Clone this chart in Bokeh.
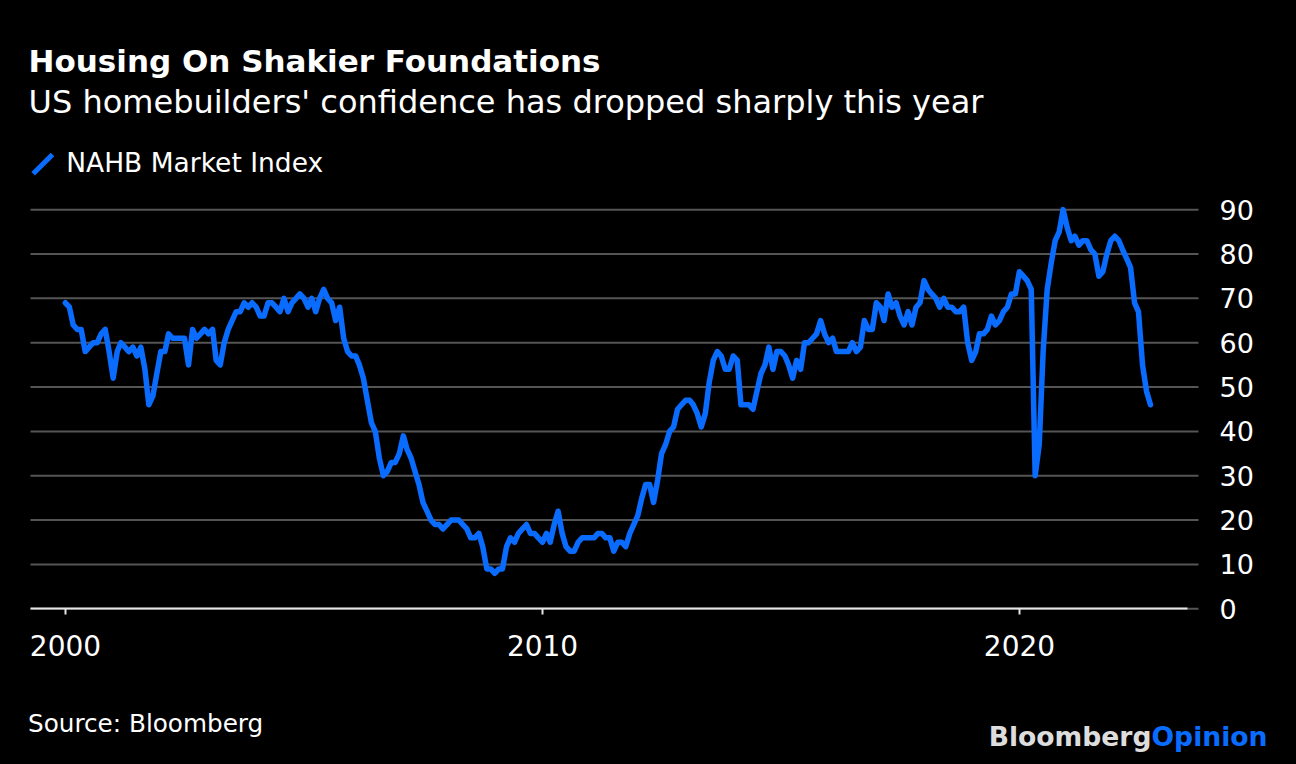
import pandas as pd
from bokeh.plotting import figure
from bokeh.models import (ColumnDataSource, Range1d, FixedTicker, DatetimeTickFormatter,
                          Label, PolyAnnotation)
from bokeh.embed import file_html
from bokeh.resources import INLINE

# NAHB Market Index, monthly (month-end), Dec 1999 .. Sep 2022
nahb_1999 = [69]
nahb_2000 = [68, 64, 63, 63, 58, 59, 60, 60, 62, 63, 58, 52]
nahb_2001 = [58, 60, 59, 58, 59, 57, 59, 54, 46, 48, 53, 58]
nahb_2002 = [58, 62, 61, 61, 61, 61, 55, 63, 61, 62, 63, 62]
nahb_2003 = [63, 56, 55, 60, 63, 65, 67, 67, 69, 68, 69, 68]
nahb_2004 = [66, 66, 69, 69, 68, 67, 70, 67, 69, 70, 71, 70]
nahb_2005 = [68, 70, 67, 70, 72, 70, 69, 65, 68, 61, 58, 57]
nahb_2006 = [57, 55, 52, 47, 42, 40, 34, 30, 31, 33, 33, 35]
nahb_2007 = [39, 36, 34, 31, 28, 24, 22, 20, 19, 19, 18, 19]
nahb_2008 = [20, 20, 20, 19, 18, 16, 16, 17, 14, 9, 9, 8]
nahb_2009 = [9, 9, 14, 16, 15, 17, 18, 19, 17, 17, 16, 15]
nahb_2010 = [17, 15, 19, 22, 17, 14, 13, 13, 15, 16, 16, 16]
nahb_2011 = [16, 17, 17, 16, 16, 13, 15, 15, 14, 17, 19, 21]
nahb_2012 = [25, 28, 28, 24, 29, 35, 37, 40, 41, 45, 46, 47]
nahb_2013 = [47, 46, 44, 41, 44, 51, 56, 58, 57, 54, 54, 57]
nahb_2014 = [56, 46, 46, 46, 45, 49, 53, 55, 59, 54, 58, 58]
nahb_2015 = [57, 55, 52, 56, 54, 60, 60, 61, 62, 65, 62, 60]
nahb_2016 = [61, 58, 58, 58, 58, 60, 58, 59, 65, 63, 63, 69]
nahb_2017 = [68, 65, 71, 68, 69, 66, 64, 67, 64, 68, 69, 74]
nahb_2018 = [72, 71, 70, 68, 70, 68, 68, 67, 67, 68, 60, 56]
nahb_2019 = [58, 62, 62, 63, 66, 64, 65, 67, 68, 71, 71, 76]
nahb_2020 = [75, 74, 72, 30, 37, 58, 72, 78, 83, 85, 90, 86]
nahb_2021 = [83, 84, 82, 83, 83, 81, 80, 75, 76, 80, 83, 84]
nahb_2022 = [83, 81, 79, 77, 69, 67, 55, 49, 46]

first_month_end = "1999-12-31"
y_ticks = [0, 10, 20, 30, 40, 50, 60, 70, 80, 90]
x_tick_dates = ["2000-01-01", "2010-01-01", "2020-01-01"]

title_text = "Housing On Shakier Foundations"
subtitle_text = "US homebuilders' confidence has dropped sharply this year"
legend_text = "NAHB Market Index"
source_text = "Source: Bloomberg"
logo_left = "Bloomberg"
logo_right = "Opinion"

values = (nahb_1999 + nahb_2000 + nahb_2001 + nahb_2002 + nahb_2003 + nahb_2004 +
          nahb_2005 + nahb_2006 + nahb_2007 + nahb_2008 + nahb_2009 + nahb_2010 +
          nahb_2011 + nahb_2012 + nahb_2013 + nahb_2014 + nahb_2015 + nahb_2016 +
          nahb_2017 + nahb_2018 + nahb_2019 + nahb_2020 + nahb_2021 + nahb_2022)
try:
    dates = pd.date_range(first_month_end, periods=len(values), freq="ME")
except Exception:
    dates = pd.date_range(first_month_end, periods=len(values), freq="M")

src = ColumnDataSource(data=dict(date=dates, nahb=values))

BLUE = "#0a6cff"
BG = "#000000"
FONT = "DejaVu Sans"
W, H = 1296, 764


def yr(decimal_year):
    """decimal year -> epoch milliseconds"""
    ts = pd.Timestamp("2000-01-01") + pd.Timedelta(days=(decimal_year - 2000) * 365.25)
    return ts.value / 1e6


def ms(date_str):
    return pd.Timestamp(date_str).value / 1e6


# horizontal layout of the canvas (years); plot area is 1999.266 .. 2023.753
view_left, view_right = 1998.6373, 2025.8071
area_left, area_right, axis_line_end = 1999.2662, 2023.7526, 2023.52
# vertical: value range shown on the whole canvas
view_bottom, view_top = -35.11, 137.16

p = figure(width=W, height=H, output_backend="svg", toolbar_location=None,
           x_axis_type="datetime", y_axis_location="right", title_location=None,
           x_range=Range1d(yr(view_left), yr(view_right)),
           y_range=Range1d(view_bottom, view_top),
           min_border=0, min_border_left=0, min_border_right=0,
           min_border_top=0, min_border_bottom=0,
           background_fill_color=BG, border_fill_color=BG, outline_line_color=None)
p.xgrid.visible = False
p.ygrid.visible = False

# horizontal grid lines at the y ticks, spanning the plot area only
p.segment(x0=[yr(area_left)] * len(y_ticks), x1=[yr(area_right)] * len(y_ticks),
          y0=y_ticks, y1=y_ticks, line_color="#555555", line_width=2)

p.line(x="date", y="nahb", source=src, line_color=BLUE, line_width=5.5,
       line_join="round", line_cap="round")

# y axis: right side of plot area
ya = p.yaxis[0]
ya.fixed_location = yr(area_right)
ya.ticker = FixedTicker(ticks=y_ticks)
ya.axis_line_color = None
ya.major_tick_line_color = None
ya.minor_tick_line_color = None
ya.major_label_standoff = 15
ya.major_label_text_color = "#ffffff"
ya.major_label_text_font = FONT
ya.major_label_text_font_size = "27px"

# x axis at value 0
xa = p.xaxis[0]
xa.fixed_location = 0
xa.ticker = FixedTicker(ticks=[ms(t) for t in x_tick_dates])
xa.formatter = DatetimeTickFormatter(years="%Y", months="%Y", days="%Y",
                                     hours="%Y", minutes="%Y", seconds="%Y",
                                     milliseconds="%Y", microseconds="%Y")
xa.bounds = (yr(area_left), yr(axis_line_end))
xa.axis_line_color = "#e6e6e6"
xa.axis_line_width = 2
xa.major_tick_line_color = "#e6e6e6"
xa.major_tick_line_width = 2
xa.major_tick_in = 0
xa.major_tick_out = 6
xa.minor_tick_line_color = None
xa.major_label_standoff = 20
xa.major_label_text_color = "#ffffff"
xa.major_label_text_font = FONT
xa.major_label_text_font_size = "28px"


def label(x, y, text, size, color="#ffffff", bold=False, align="left"):
    # x from canvas left, y from canvas bottom (screen pixels)
    p.add_layout(Label(x=x, y=y, x_units="screen", y_units="screen", text=text,
                       text_font=FONT, text_font_style="bold" if bold else "normal",
                       text_font_size=size, text_color=color, text_align=align,
                       text_baseline="alphabetic"))


label(28, 703.6, title_text, "31px", bold=True)
label(28, 662.2, subtitle_text, "32px")
label(65.7, 601.6, legend_text, "26.5px")
p.add_layout(PolyAnnotation(xs=[30.9, 50.2, 53.8, 34.5],
                            ys=[592.5, 611.8, 608.2, 588.9],
                            xs_units="screen", ys_units="screen",
                            fill_color=BLUE, fill_alpha=1.0, line_color=None))
label(27.5, 41.3, source_text, "24.7px")
label(1151, 28.2, logo_left, "26.6px", color="#dddddd", bold=True, align="right")
label(1151, 28.2, logo_right, "26.6px", color=BLUE, bold=True, align="left")

html = file_html(p, INLINE, title="Housing On Shakier Foundations")
html = html.replace("</head>", "<style>html,body{background:#000000;margin:0;}</style></head>", 1)
open("out.html", "w").write(html)
